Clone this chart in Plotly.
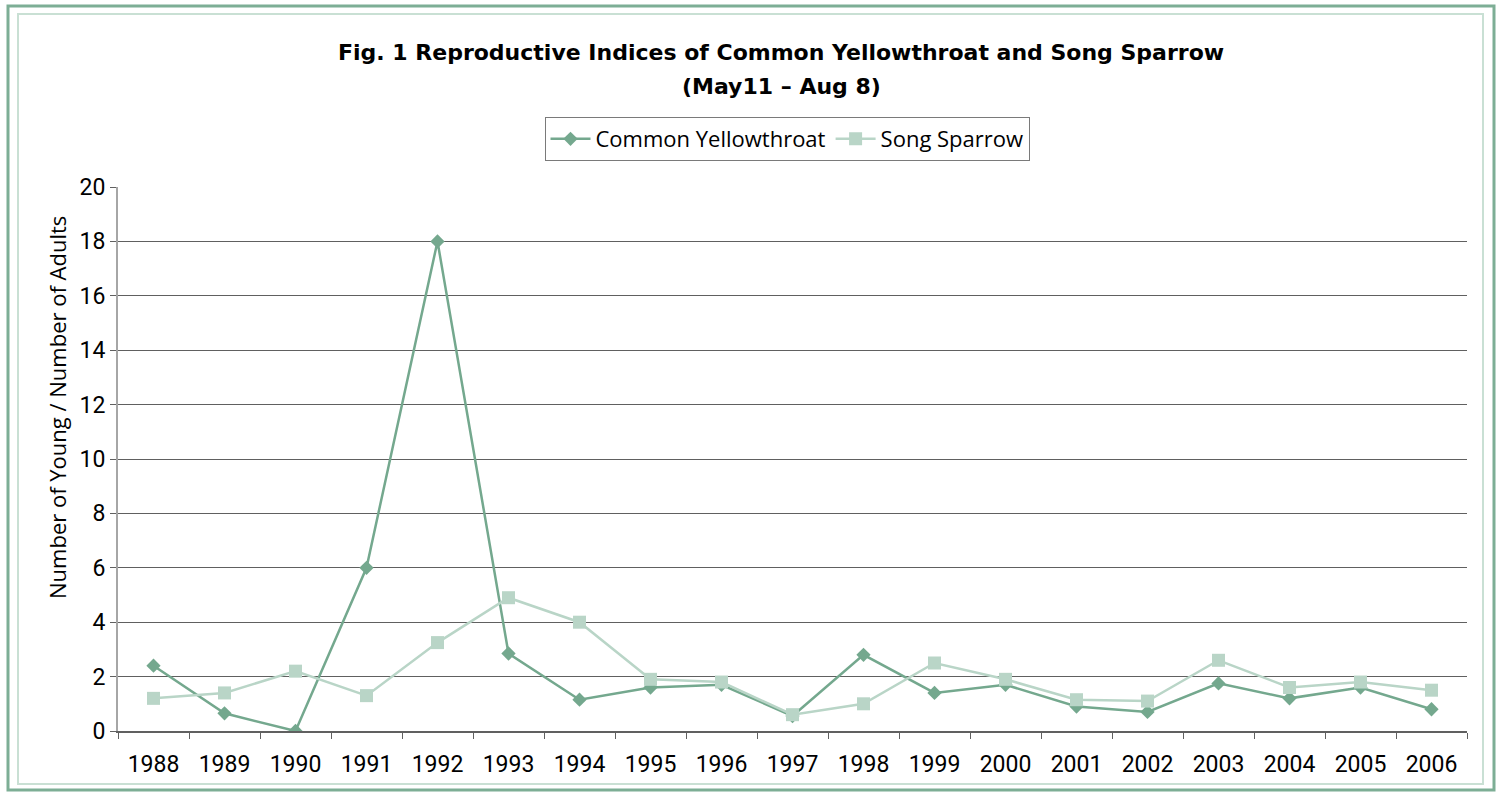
import plotly.graph_objects as go

# Reproductive index (young / adults) per season, May 11 - Aug 8
years = [str(y) for y in range(1988, 2007)]
yellowthroat = [2.4, 0.65, 0.0, 6.0, 18.0, 2.85, 1.15, 1.6, 1.7, 0.55,
                2.8, 1.4, 1.7, 0.9, 0.7, 1.75, 1.2, 1.6, 0.8]
song_sparrow = [1.2, 1.4, 2.2, 1.3, 3.25, 4.9, 4.0, 1.9, 1.8, 0.6,
                1.0, 2.5, 1.9, 1.15, 1.1, 2.6, 1.6, 1.8, 1.5]
y_ticks = list(range(0, 21, 2))

W, H = 1503, 792
L, R, T, B = 118, 36, 187, 61
PW, PH = W - L - R, H - T - B

DARK = "#74a88e"
LIGHT = "#b9d5c7"
TICK_FONT = dict(family="Liberation Sans Narrow, Arial Narrow, Roboto, sans-serif", size=23, color="#000000")
TEXT_FONT = "Open Sans, Lato, sans-serif"


def px_x(x):
    return (x - L) / PW


def px_y(y):
    return 1 - (y - T) / PH


fig = go.Figure()
fig.add_trace(go.Scatter(
    x=years, y=yellowthroat, name="Common Yellowthroat", mode="lines+markers",
    line=dict(color=DARK, width=2.5),
    marker=dict(symbol="diamond", size=11, color=DARK),
))
fig.add_trace(go.Scatter(
    x=years, y=song_sparrow, name="Song Sparrow", mode="lines+markers",
    line=dict(color=LIGHT, width=2.5),
    marker=dict(symbol="square", size=13, color=LIGHT),
))

shapes = [
    # double frame around the whole figure
    dict(type="rect", xref="paper", yref="paper",
         x0=px_x(8), x1=px_x(1494), y0=px_y(6), y1=px_y(790),
         line=dict(color="#7dae95", width=3), layer="below"),
    dict(type="rect", xref="paper", yref="paper",
         x0=px_x(18), x1=px_x(1483), y0=px_y(14), y1=px_y(784),
         line=dict(color="#c9e0d4", width=2), layer="below"),
]

TITLE_FONT = dict(family="DejaVu Sans, sans-serif", size=22, color="#000000")
annotations = [
    dict(text="<b>Fig. 1 Reproductive Indices of Common Yellowthroat and Song Sparrow</b>",
         x=px_x(781), y=px_y(52), xref="paper", yref="paper",
         showarrow=False, xanchor="center", yanchor="middle", font=TITLE_FONT),
    dict(text="<b>(May11 – Aug 8)</b>",
         x=px_x(781), y=px_y(86), xref="paper", yref="paper",
         showarrow=False, xanchor="center", yanchor="middle", font=TITLE_FONT),
    # y-axis title
    dict(text="Number of Young / Number of Adults",
         x=px_x(57), y=px_y(408), xref="paper", yref="paper", textangle=-90,
         showarrow=False, xanchor="center", yanchor="middle",
         font=dict(family=TEXT_FONT, size=22, color="#000000")),
]

fig.update_layout(
    width=W, height=H,
    margin=dict(l=L, r=R, t=T, b=B, autoexpand=False),
    paper_bgcolor="white", plot_bgcolor="white",
    shapes=shapes, annotations=annotations,
    legend=dict(
        orientation="h", x=px_x(787), y=px_y(117), xanchor="center", yanchor="top",
        bordercolor="#7a7a7a", borderwidth=1, bgcolor="white",
        font=dict(family=TEXT_FONT, size=22, color="#000000"),
        itemwidth=40, tracegroupgap=0,
    ),
    xaxis=dict(
        type="category", range=[-0.5, len(years) - 0.5],
        tickson="boundaries", ticks="outside", ticklen=6,
        tickcolor="#606060", showline=True, linecolor="#606060", linewidth=1.5,
        showgrid=False, tickfont=TICK_FONT, fixedrange=True,
        ticklabelstandoff=12,
    ),
    yaxis=dict(
        range=[0, 20], tickvals=y_ticks, ticks="outside", ticklen=6,
        tickcolor="#606060", showline=True, linecolor="#a6a6a6", linewidth=2,
        showgrid=True, gridcolor="#606060", gridwidth=1, zeroline=False,
        tickfont=TICK_FONT,
    ),
)

fig.write_html("out.html")
